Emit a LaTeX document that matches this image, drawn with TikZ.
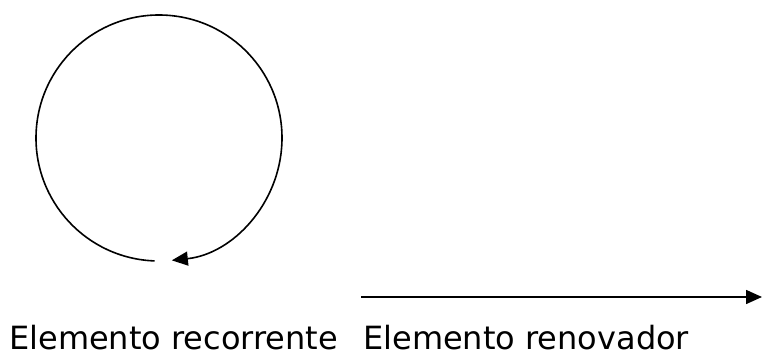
\documentclass[tikz,border=0pt]{standalone}
\usepackage{fontspec}
\setmainfont{DejaVu Sans}
\usetikzlibrary{arrows.meta,positioning}
\tikzset{
  arr/.style={-{Triangle[length=16pt,width=14pt]}, line width=1.6pt},
  lbl/.style={font=\fontsize{32}{38}\selectfont, inner sep=0pt, anchor=base west}
}
\begin{document}
\begin{tikzpicture}[x=1pt,y=1pt]
\useasboundingbox (0,0) rectangle (762,358);
% recurring loop
\coordinate (loopc) at (159,220);
\draw[arr] (loopc) ++(268:123) arc[start angle=268, end angle=-84, radius=123];
% renewing arrow
\coordinate (renA) at (361,61);
\coordinate (renB) at (762,61);
\draw[arr] (renA) -- (renB);
\node[lbl] (recorrente) at (9,8) {Elemento recorrente};
\node[lbl] (renovador) at (363,8) {Elemento renovador};
\end{tikzpicture}
\end{document}
